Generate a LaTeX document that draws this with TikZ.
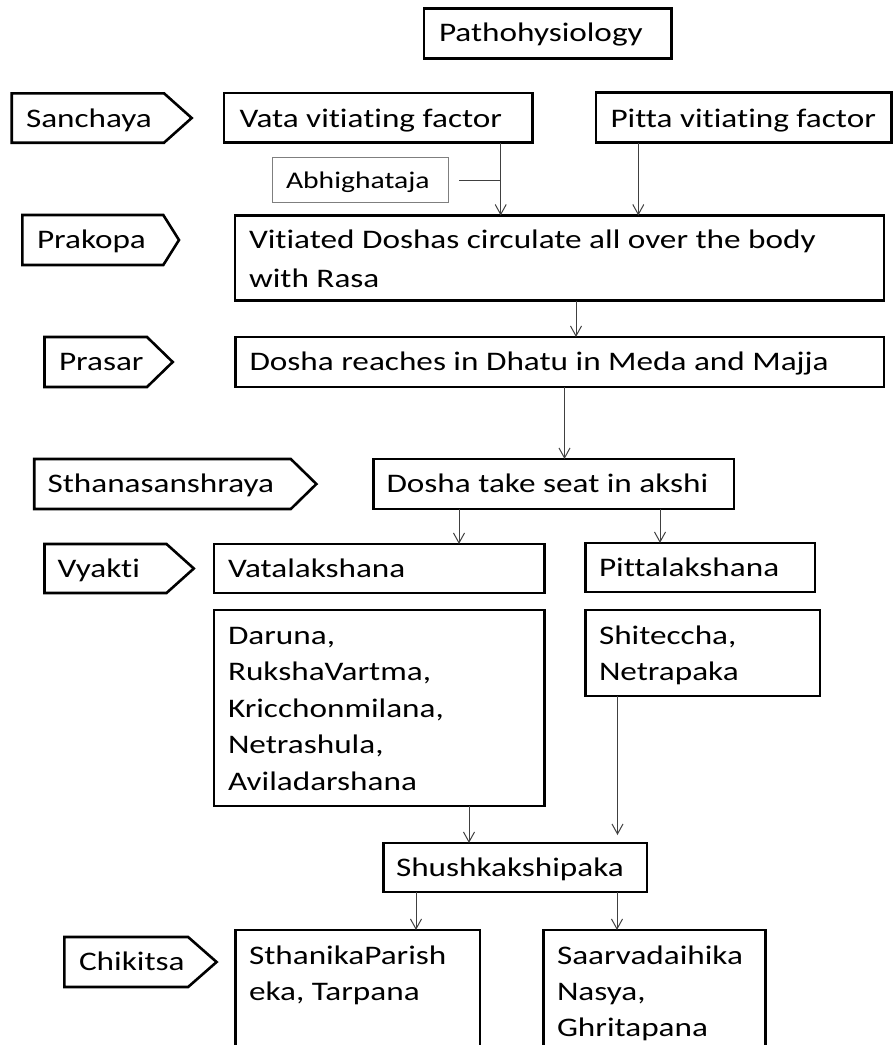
\documentclass[tikz,border=0pt]{standalone}
\usepackage{fontspec}
\setmainfont{Carlito}[FakeStretch=1.24, Ligatures=NoCommon]
\usetikzlibrary{arrows.meta}
\definecolor{lnk}{HTML}{404040}
\definecolor{abhgray}{HTML}{7F7F7F}
\newcommand\boxat[5]{\node[mainbox, anchor=north west, minimum width=#4, minimum height=#5] (#1) at (#2,#3) {};}
\newcommand\phasebox[6]{%
  \node[anchor=north west, minimum width=#4, minimum height=#6, inner sep=0pt, outer sep=0pt] (#1) at (#2,#3) {};
  \draw[phaseline] (#1.north west) -- (#1.north east) -- ([xshift=#5]#1.east) -- (#1.south east) -- (#1.south west) -- cycle;}
\begin{document}
\begin{tikzpicture}[x=1pt,y=-1pt,
  mainbox/.style={draw=black, line width=2.6pt, rectangle, inner sep=0pt, outer sep=0pt},
  phaseline/.style={draw=black, line width=2.6pt, line join=miter},
  abhbox/.style={draw=abhgray, line width=1pt, rectangle, inner sep=0pt, outer sep=0pt},
  txt/.style={anchor=base west, inner sep=0pt, outer sep=0pt, text=black, font=\fontsize{26.8}{36.7}\selectfont},
  smalltxt/.style={txt, font=\fontsize{23.9}{30}\selectfont},
  link/.style={draw=lnk, line width=1pt},
  arr/.style={link, -{Straight Barb[length=10pt,width=11pt,line width=1pt]}}
  ]
\useasboundingbox (0,0) rectangle (894,1045);
\clip (0,0) rectangle (894,1045);

% boxes
\boxat{patho}{424}{8.3}{247.7}{50}
\boxat{vata}{224}{93}{308.7}{49.7}
\boxat{pitta}{596}{92.7}{295.7}{50}
\node[abhbox, anchor=north west, minimum width=175.6, minimum height=44.6] (abh) at (272.7,157.7) {};
\boxat{vit}{235}{215.5}{649}{85}
\boxat{reach}{235.5}{337}{648.5}{50}
\boxat{seat}{373.5}{459}{360.5}{50}
\boxat{vatl}{214}{544}{330.5}{49}
\boxat{pittl}{585.5}{543}{229.5}{49}
\boxat{daruna}{214}{610}{330.5}{196}
\boxat{shit}{585.5}{610}{234.5}{86}
\boxat{shush}{383.7}{843}{263.3}{49}
\boxat{sthan}{235.7}{930}{244.3}{140}
\boxat{saarva}{543.3}{930}{222.4}{140}

% phase arrows
\phasebox{sanchaya}{11.7}{93.3}{152.3}{27.7}{49.4}
\phasebox{prakopa}{22.3}{215}{141}{15.7}{50}
\phasebox{prasar}{44.5}{337}{102.5}{25.7}{50}
\phasebox{sthana}{34.2}{459}{256.6}{25.6}{50}
\phasebox{vyakti}{44.5}{544}{122}{27.3}{49}
\phasebox{chikitsa}{64.4}{937}{123.7}{28.5}{50}

% texts
\node[txt] (t-patho) at (439,41.8) {Pathohysiology};
\node[txt] (t-sanchaya) at (26,127.2) {Sanchaya};
\node[txt] (t-vata) at (239.5,127.2) {Vata vitiating factor};
\node[txt] (t-pitta) at (610.5,127.2) {Pitta vitiating factor};
\node[smalltxt] (t-abh) at (286,188.5) {Abhighataja};
\node[txt] (t-prakopa) at (37,248.8) {Prakopa};
\node[txt] (t-vit1) at (249,248.5) {Vitiated Doshas circulate all over the body};
\node[txt] (t-vit2) at (249,287) {with Rasa};
\node[txt] (t-prasar) at (59,370.8) {Prasar};
\node[txt] (t-reach) at (249.5,370.8) {Dosha reaches in Dhatu in Meda and Majja};
\node[txt] (t-sthana) at (47.5,492.8) {Sthanasanshraya};
\node[txt] (t-seat) at (386.5,492.8) {Dosha take seat in akshi};
\node[txt] (t-vyakti) at (57.5,577.3) {Vyakti};
\node[txt] (t-vatl) at (228,577.3) {Vatalakshana};
\node[txt] (t-pittl) at (599,576.3) {Pittalakshana};
\node[txt] (t-dar1) at (228,644.3) {Daruna,};
\node[txt] (t-dar2) at (228,680.8) {RukshaVartma,};
\node[txt] (t-dar3) at (228,717.3) {Kricchonmilana,};
\node[txt] (t-dar4) at (228,753.8) {Netrashula,};
\node[txt] (t-dar5) at (228,790.3) {Aviladarshana};
\node[txt] (t-shit1) at (599,644.3) {Shiteccha,};
\node[txt] (t-shit2) at (599,680.8) {Netrapaka};
\node[txt] (t-shush) at (396,876.3) {Shushkakshipaka};
\node[txt] (t-chik) at (79,970.8) {Chikitsa};
\node[txt] (t-sthan1) at (249,964) {SthanikaParish};
\node[txt] (t-sthan2) at (249,1000) {eka, Tarpana};
\node[txt] (t-saar1) at (557,964) {Saarvadaihika};
\node[txt] (t-saar2) at (557,1000) {Nasya,};
\node[txt] (t-saar3) at (557,1036) {Ghritapana};

% connector x positions
\coordinate (xa) at (500.7,0);
\coordinate (xb) at (638.3,0);
\coordinate (xc) at (576,0);
\coordinate (xd) at (564.5,0);
\coordinate (xe) at (459,0);
\coordinate (xf) at (660,0);
\coordinate (xg) at (469,0);
\coordinate (xh) at (617.5,0);
\coordinate (xi) at (416,0);
\coordinate (xj) at (617,0);
\coordinate (shitend) at (617.5,835);

% connectors
\draw[arr] (vata.south -| xa) -- (vit.north -| xa);
\draw[arr] (pitta.south -| xb) -- (vit.north -| xb);
\draw[link] ([xshift=10.7pt]abh.east) -- (abh.east -| xa);
\draw[arr] (vit.south -| xc) -- (reach.north -| xc);
\draw[arr] (reach.south -| xd) -- (seat.north -| xd);
\draw[arr] (seat.south -| xe) -- (vatl.north -| xe);
\draw[arr] (seat.south -| xf) -- (pittl.north -| xf);
\draw[arr] (daruna.south -| xg) -- (shush.north -| xg);
\draw[arr] (shit.south -| xh) -- (shitend);
\draw[arr] (shush.south -| xi) -- (sthan.north -| xi);
\draw[arr] (shush.south -| xj) -- (saarva.north -| xj);
\end{tikzpicture}
\end{document}
